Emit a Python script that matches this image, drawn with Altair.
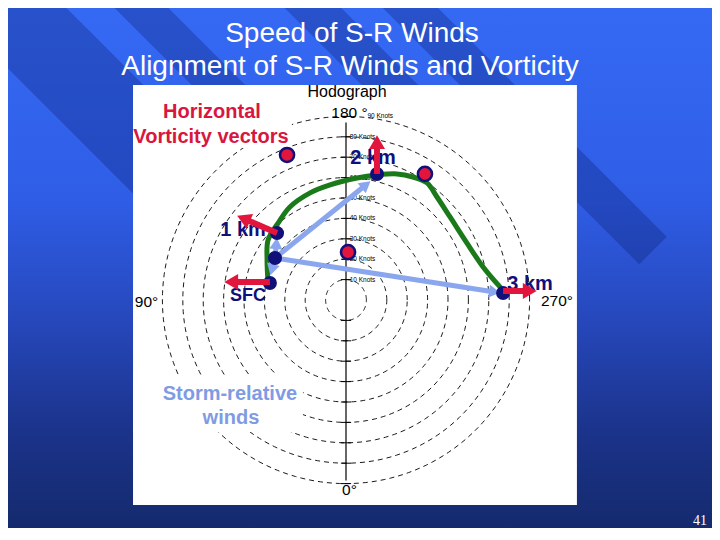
import math
import altair as alt
import pandas as pd

# ------------------------------------------------------------------ text
TITLE_LINES = ["Speed of S-R Winds", "Alignment of S-R Winds and Vorticity"]
PAGE_NUMBER = "41"

# ------------------------------------------------------------------ hodograph data (knots)
# u: to the right (270 deg side), v: upward (180 deg side)
RING_KNOTS = [10, 20, 30, 40, 50, 60, 70, 80, 90]
RING_LABELS = [f"{k} Knots" for k in RING_KNOTS]
RING_LABEL_U = [1.8, 1.8, 1.8, 1.8, 1.8, 1.8, 1.8, 1.8, 10.5]

LEVEL_NAMES = ["SFC", "0.5 km", "1 km", "2 km", "3 km"]
LEVEL_U = [-37.3, -34.8, -33.8, 15.2, 77.0]
LEVEL_V = [8.3, 20.6, 32.8, 61.8, 3.4]

CURVE_U = [-38.2, -38.7, -38.2, -33.3, -27.5, -17.6, -7.8, 5.4, 15.2, 25.0,
           32.8, 39.7, 44.6, 51.0, 59.3, 67.2, 75.5]
CURVE_V = [8.3, 19.6, 29.4, 37.7, 45.6, 52.5, 56.4, 59.8, 61.3, 61.8,
           60.3, 57.4, 50.5, 40.7, 27.9, 16.2, 6.4]

MARKER_U = [-28.9, 38.7, 1.0]
MARKER_V = [71.1, 61.8, 23.5]

SR_FROM_U = -34.8
SR_FROM_V = 20.6
SR_TO_U = [-37.3, -33.8, 12.7, 76.5]
SR_TO_V = [11.3, 31.4, 58.8, 3.4]

VORT_FROM_U = [-37.3, -33.8, 15.2, 77.0]
VORT_FROM_V = [8.8, 32.8, 61.8, 4.4]
VORT_TO_U = [-60.8, -54.4, 15.2, 94.6]
VORT_TO_V = [8.8, 41.7, 81.9, 4.4]

# ------------------------------------------------------------------ layout
VIEW_X0, VIEW_X1 = 8, 712      # slide pixels shown
VIEW_Y0, VIEW_Y1 = 8, 528
W, H = VIEW_X1 - VIEW_X0, VIEW_Y1 - VIEW_Y0
SLIDE_W, SLIDE_H = 720, 540
CENTER_PX = (346, 300)
PX_PER_KT = 2.04

UMIN = (VIEW_X0 - CENTER_PX[0]) / PX_PER_KT
UMAX = (VIEW_X1 - CENTER_PX[0]) / PX_PER_KT
VMIN = (CENTER_PX[1] - VIEW_Y1) / PX_PER_KT
VMAX = (CENTER_PX[1] - VIEW_Y0) / PX_PER_KT

FONT = "Liberation Sans"
RED = "#e2163d"
NAVY = "#10107a"
GREEN = "#1a7a1a"
LIGHTBLUE = "#8aa6ee"
SRTEXT = "#7f9be3"


def SX(f):
    return alt.X(f"{f}:Q", scale=alt.Scale(domain=[VIEW_X0, VIEW_X1], nice=False, zero=False), axis=None)


def SY(f):
    return alt.Y(f"{f}:Q", scale=alt.Scale(domain=[VIEW_Y0, VIEW_Y1], reverse=True, nice=False, zero=False), axis=None)


def KX(f="u"):
    return alt.X(f"{f}:Q", scale=alt.Scale(domain=[UMIN, UMAX], nice=False, zero=False), axis=None)


def KY(f="v"):
    return alt.Y(f"{f}:Q", scale=alt.Scale(domain=[VMIN, VMAX], nice=False, zero=False), axis=None)


# ------------------------------------------------------------------ slide background
grad = alt.Gradient(
    gradient="linear", x1=0, x2=0, y1=0, y2=1,
    stops=[
        alt.GradientStop(color="#356af5", offset=0.0),
        alt.GradientStop(color="#2f5de6", offset=0.37),
        alt.GradientStop(color="#2647ba", offset=0.6),
        alt.GradientStop(color="#1b338a", offset=0.8),
        alt.GradientStop(color="#14296a", offset=1.0),
    ],
)
bg = alt.Chart(pd.DataFrame({"x": [0], "x2": [SLIDE_W], "y": [0], "y2": [SLIDE_H]})).mark_rect(
    fill=grad, clip=True
).encode(x=SX("x"), x2="x2", y=SY("y"), y2="y2")

# diagonal stripes: (offset c of y = x + c, width px, x start, x end)
STRIPES = [(1, 84, -80, 250), (-133.5, 38, 90, 350), (-305, 40, 260, 560), (-402.5, 39, 360, 653)]
stripe_layers = []
for c, w, xs, xe in STRIPES:
    d = pd.DataFrame({"x": [xs], "y": [xs + c], "x2": [xe], "y2": [xe + c]})
    stripe_layers.append(
        alt.Chart(d).mark_rule(color="#0a1a6a", opacity=0.3, strokeWidth=w, strokeCap="butt", clip=True)
        .encode(x=SX("x"), y=SY("y"), x2="x2", y2="y2")
    )

title = alt.Chart(pd.DataFrame({"x": [352, 350], "y": [34, 67], "t": TITLE_LINES})).mark_text(
    font=FONT, fontSize=28, color="white", align="center", baseline="middle"
).encode(x=SX("x"), y=SY("y"), text="t:N")

page = alt.Chart(pd.DataFrame({"x": [700], "y": [521], "t": [PAGE_NUMBER]})).mark_text(
    font="Liberation Serif", fontSize=14, color="white", align="center", baseline="middle"
).encode(x=SX("x"), y=SY("y"), text="t:N")

slide = alt.layer(bg, *stripe_layers, title, page)

# ------------------------------------------------------------------ hodograph
panel = alt.Chart(pd.DataFrame({"u": [-104.4], "u2": [113.2], "v": [-100.5], "v2": [105.4]})).mark_rect(
    color="white"
).encode(x=KX("u"), x2="u2", y=KY("v"), y2="v2")

ring_rows = []
for r in RING_KNOTS:
    for i, deg in enumerate(range(0, 361, 2)):
        a = math.radians(deg)
        ring_rows.append({"ring": r, "i": i, "u": r * math.cos(a), "v": r * math.sin(a)})
rings = alt.Chart(pd.DataFrame(ring_rows)).mark_line(
    color="black", strokeWidth=0.9, strokeDash=[5, 4]
).encode(x=KX(), y=KY(), detail="ring:N", order="i:Q")

boxes = alt.Chart(pd.DataFrame({"u": [-104.4, -104.4], "u2": [-21.1, -26.5],
                                "v": [-36.8, 74.5], "v2": [-64.7, 99.0]})).mark_rect(
    color="white"
).encode(x=KX("u"), x2="u2", y=KY("v"), y2="v2")

axis_line = alt.Chart(pd.DataFrame({"u": [0.0], "v": [-88.5], "v2": [87.0]})).mark_rule(
    color="black", strokeWidth=1.2
).encode(x=KX("u"), y=KY("v"), y2="v2")

tick_rows = []
for r in RING_KNOTS:
    tick_rows.append({"u": -2.5, "u2": 2.5, "v": r})
    tick_rows.append({"u": -2.5, "u2": 2.5, "v": -r})
ticks = alt.Chart(pd.DataFrame(tick_rows)).mark_rule(color="black", strokeWidth=1).encode(
    x=KX("u"), x2="u2", y=KY("v")
)

knot_labels = alt.Chart(pd.DataFrame({"u": RING_LABEL_U, "v": RING_KNOTS, "t": RING_LABELS})).mark_text(
    font=FONT, fontSize=6.5, color="black", align="left", baseline="middle"
).encode(x=KX(), y=KY(), text="t:N")

curve = alt.Chart(pd.DataFrame({"u": CURVE_U, "v": CURVE_V, "i": range(len(CURVE_U))})).mark_line(
    color=GREEN, strokeWidth=5, interpolate="catmull-rom", strokeCap="round"
).encode(x=KX(), y=KY(), order="i:Q")


def arrow_layers(fu, fv, tu, tv, color, shaft, head):
    back = head * 0.5774 / PX_PER_KT
    s_rows, h_rows = [], []
    for a, b, c, d in zip(fu, fv, tu, tv):
        du, dv = c - a, d - b
        L = math.hypot(du, dv)
        cu, cv = c - du / L * back, d - dv / L * back
        s_rows.append({"u": a, "v": b, "u2": cu, "v2": cv})
        h_rows.append({"u": cu, "v": cv, "ang": math.degrees(math.atan2(du, dv)) % 360})
    shafts = alt.Chart(pd.DataFrame(s_rows)).mark_rule(
        color=color, strokeWidth=shaft, strokeCap="butt"
    ).encode(x=KX("u"), y=KY("v"), x2="u2", y2="v2")
    heads = alt.Chart(pd.DataFrame(h_rows)).mark_point(
        shape="triangle-up", filled=True, color=color, opacity=1, size=head * head, strokeWidth=0
    ).encode(x=KX("u"), y=KY("v"), angle=alt.Angle("ang:Q", scale=None))
    return [shafts, heads]


sr_arrows = arrow_layers([SR_FROM_U] * len(SR_TO_U), [SR_FROM_V] * len(SR_TO_V), SR_TO_U, SR_TO_V,
                         LIGHTBLUE, 5, 13)
vort_arrows = arrow_layers(VORT_FROM_U, VORT_FROM_V, VORT_TO_U, VORT_TO_V, RED, 6, 16)

level_df = pd.DataFrame({"u": LEVEL_U, "v": LEVEL_V, "name": LEVEL_NAMES})
level_dots = alt.Chart(level_df).mark_circle(color=NAVY, opacity=1, size=196).encode(x=KX(), y=KY())

markers = alt.Chart(pd.DataFrame({"u": MARKER_U, "v": MARKER_V})).mark_point(
    shape="circle", filled=True, fill=RED, stroke=NAVY, strokeWidth=2.5, opacity=1, size=200
).encode(x=KX(), y=KY())

LABEL_OFFSETS = {"SFC": (-22, 13, 18), "1 km": (-34, -3, 20), "2 km": (-4, -16, 20), "3 km": (27, -9, 20)}
level_labels = []
for name, (dx, dy, fs) in LABEL_OFFSETS.items():
    level_labels.append(
        alt.Chart(level_df[level_df["name"] == name]).mark_text(
            font=FONT, fontWeight="bold", fontSize=fs, color=NAVY, dx=dx, dy=dy,
            align="center", baseline="middle"
        ).encode(x=KX(), y=KY(), text="name:N")
    )


def ktext(us, vs, texts, size, color, bold=False):
    return alt.Chart(pd.DataFrame({"u": us, "v": vs, "t": texts})).mark_text(
        font=FONT, fontSize=size, color=color, fontWeight="bold" if bold else "normal",
        align="center", baseline="middle"
    ).encode(x=KX(), y=KY(), text="t:N")


hodo_title = ktext([0.5], [102.0], ["Hodograph"], 16, "black")
deg_labels = ktext([1.7, 1.7, -97.8, 103.4], [91.7, -93.1, -1.0, -0.5],
                   ["180 °", "0°", "90°", "270°"], 15.5, "black")
vort_text = ktext([-65.7, -66.2], [92.2, 79.9], ["Horizontal", "Vorticity vectors"], 20, "#d8163e", True)
sr_text = ktext([-56.9, -56.4], [-46.1, -57.8], ["Storm-relative", "winds"], 20, SRTEXT, True)

hodo = alt.layer(
    panel, rings, boxes, axis_line, ticks, knot_labels, hodo_title, deg_labels,
    vort_text, sr_text, curve, *sr_arrows, *level_labels, level_dots, *vort_arrows, markers
)

chart = (
    alt.layer(slide, hodo)
    .resolve_scale(x="independent", y="independent")
    .properties(width=W, height=H, padding=0, autosize="none", background="#14296a")
    .configure_view(stroke=None)
)

chart.save("out.html", embed_options={"renderer": "svg", "actions": False})
